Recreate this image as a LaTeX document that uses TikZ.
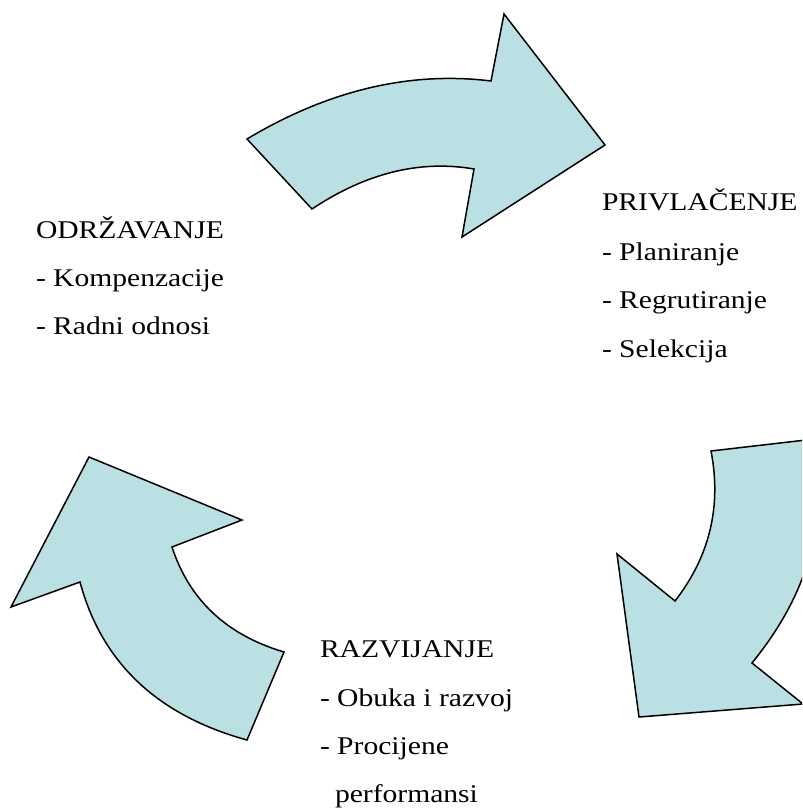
\documentclass[tikz,border=0pt]{standalone}
\usepackage{fontspec}
\setmainfont{Liberation Serif}[FakeStretch=1.16]
\definecolor{arrowfill}{RGB}{187,224,227}
\begin{document}
\begin{tikzpicture}[x=1pt,y=-1pt,
  arrowshape/.style={fill=arrowfill, draw=black, line width=1.5pt, line join=miter},
  lbl/.style={anchor=base west, inner sep=0pt, outer sep=0pt, font=\fontsize{25.5}{30}\selectfont}]
\useasboundingbox (0,0) rectangle (802,810);
\begin{scope}
\clip (0,0) rectangle (802,810);
% top arrow
\draw[arrowshape] (247,139) .. controls (328.3,90.3) and (409.7,71) .. (491,81)
  -- (504,14) -- (605,145) -- (462,237) -- (474,169)
  .. controls (420,159.7) and (366,173) .. (312,209) -- cycle;
% right arrow
\draw[arrowshape] (711,451) .. controls (721.7,506.3) and (709.7,556.3) .. (675,601)
  -- (617,554) -- (639,717) -- (803,704) -- (752,663)
  .. controls (812,589) and (830,514.7) .. (806,440) -- cycle;
% left arrow
\draw[arrowshape] (89,457) -- (242,520) -- (172,547)
  .. controls (189.3,600) and (226.7,635) .. (284,652)
  -- (247,740) .. controls (157.3,715.3) and (101.7,662.7) .. (80,582)
  -- (11,607) -- cycle;
\end{scope}
% texts
\node[lbl] (odr)  at (36,238) {ODRŽAVANJE};
\node[lbl] (odr1) at (36,286) {- Kompenzacije};
\node[lbl] (odr2) at (36,334) {- Radni odnosi};
\node[lbl] (pri)  at (602,211) {PRIVLAČENJE};
\node[lbl] (pri1) at (602,260) {- Planiranje};
\node[lbl] (pri2) at (602,308) {- Regrutiranje};
\node[lbl] (pri3) at (602,357) {- Selekcija};
\node[lbl] (raz)  at (320,657) {RAZVIJANJE};
\node[lbl] (raz1) at (320,706) {- Obuka i razvoj};
\node[lbl] (raz2) at (320,754) {- Procijene};
\node[lbl] (raz3) at (335,802) {performansi};
\end{tikzpicture}
\end{document}
